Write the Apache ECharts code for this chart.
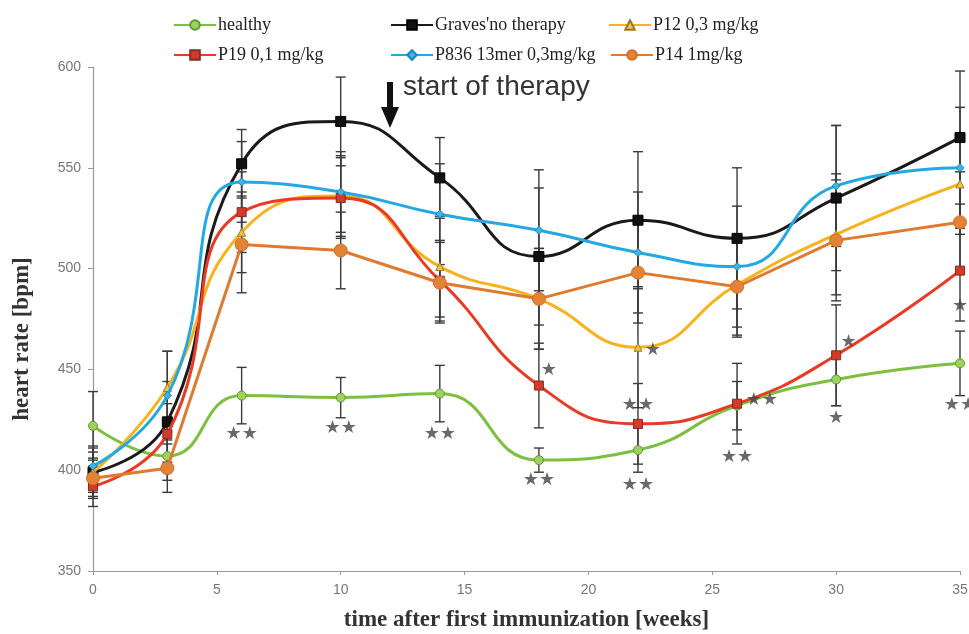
<!DOCTYPE html>
<html><head><meta charset="utf-8">
<script src="https://cdn.jsdelivr.net/npm/echarts@6/dist/echarts.min.js"></script>
<style>html,body{margin:0;padding:0;background:#fff}#c{width:969px;height:634px}</style>
</head><body><div id="c"></div>
<script>
const weeks = [0, 3, 6, 10, 14, 18, 22, 26, 30, 35];
const seriesNames = ["healthy", "Graves'no therapy", "P12 0,3 mg/kg", "P19 0,1 mg/kg", "P836 13mer 0,3mg/kg", "P14 1mg/kg"];
const healthy = [422, 407, 437, 436, 438, 405, 410, 432, 445, 453];
const graves  = [399, 424, 552, 573, 545, 506, 524, 515, 535, 565];
const p12     = [399, 441, 518, 536, 501, 485, 461, 492, 517, 542];
const p19     = [392, 418, 528, 535, 494, 442, 423, 433, 457, 499];
const p836    = [402, 437, 543, 538, 527, 519, 508, 501, 541, 550];
const p14     = [396, 401, 512, 509, 493, 485, 498, 491, 514, 523];
const errHealthy = [17, 12, 14, 10, 14, 6, 11, 12, 13, 16];
const errGraves  = [12, 20, 17, 22, 20, 34, 34, 35, 36, 33];
const errP12     = [10, 18, 20, 20, 25, 25, 30, 25, 30, 25];
const errP19     = [10, 15, 20, 20, 20, 21, 20, 20, 25, 25];
const errP836    = [10, 22, 20, 20, 25, 30, 30, 30, 30, 30];
const errP14     = [10, 12, 24, 19, 20, 25, 25, 25, 30, 25];
const yTicks = [350, 400, 450, 500, 550, 600];
const xTicks = [0, 5, 10, 15, 20, 25, 30, 35];
const annoX = [6, 10, 14, 18, 18.4, 22, 22, 22.6, 26, 27, 30, 30.5, 35, 35];
const annoY = [418, 421, 418, 395, 449.5, 432, 392.5, 459.5, 406.5, 434.5, 425.5, 463.5, 481.5, 432];
const annoText = ["★★", "★★", "★★", "★★", "★", "★★", "★★", "★", "★★", "★★", "★", "★", "★", "★★"];

const values = [healthy, graves, p12, p19, p836, p14];
const errs = [errHealthy, errGraves, errP12, errP19, errP836, errP14];
const colors = ['#7dbf3f', '#1a1a1a', '#f7b21c', '#ea3a26', '#23a9e1', '#e07a2e'];
const fills  = ['#9ed064', '#111111', '#f0c24a', '#d23a2a', '#3cb6e8', '#e38335'];
const borders= ['#5e9a2c', '#000000', '#9a7a2a', '#8a2a20', '#1c86b5', '#d0702a'];
const symbols = ['circle', 'rect', 'triangle', 'rect', 'diamond', 'circle'];
const sizes = [9, 10, 8, 9, 8, 13];
const smooths = [0.5, 0.5, 0.5, 0.5, 0.5, false];

const chart = echarts.init(document.getElementById('c'), null, {renderer: 'canvas'});

const series = [];
values.forEach((vals, si) => {
  series.push({
    type: 'custom',
    name: 'err' + si,
    z: 1,
    silent: true,
    data: weeks.map((w, i) => [w, vals[i] - errs[si][i], vals[i] + errs[si][i]]),
    renderItem: function (params, api) {
      const x = api.value(0);
      const lo = api.coord([x, api.value(1)]);
      const hi = api.coord([x, api.value(2)]);
      const cw = 5;
      const st = {stroke: '#3a3a3a', lineWidth: 1.4};
      return {type: 'group', children: [
        {type: 'line', shape: {x1: lo[0], y1: lo[1], x2: hi[0], y2: hi[1]}, style: st},
        {type: 'line', shape: {x1: lo[0]-cw, y1: lo[1], x2: lo[0]+cw, y2: lo[1]}, style: st},
        {type: 'line', shape: {x1: hi[0]-cw, y1: hi[1], x2: hi[0]+cw, y2: hi[1]}, style: st}
      ]};
    }
  });
});
values.forEach((vals, si) => {
  series.push({
    type: 'line',
    name: seriesNames[si],
    z: 3 + si,
    data: weeks.map((w, i) => [w, vals[i]]),
    smooth: smooths[si],
    symbol: symbols[si],
    symbolSize: sizes[si],
    showAllSymbol: true,
    lineStyle: {color: colors[si], width: 3},
    itemStyle: {color: fills[si], borderColor: borders[si], borderWidth: 1},
    emphasis: {disabled: true}
  });
});
series.push({
  type: 'scatter',
  name: 'stars',
  z: 10,
  symbolSize: 0,
  silent: true,
  data: annoX.map((x, i) => [x, annoY[i], annoText[i]]),
  label: {show: true, position: 'inside', formatter: p => p.value[2],
          fontSize: 18, color: '#444', fontFamily: 'DejaVu Sans'}
});

const legendPos = [
  {left: 168, top: 11}, {left: 385, top: 11}, {left: 603, top: 11},
  {left: 168, top: 41}, {left: 385, top: 41}, {left: 605, top: 41}
];
const legends = seriesNames.map((n, i) => ({
  data: [n], left: legendPos[i].left, top: legendPos[i].top,
  itemWidth: 42, itemHeight: 12, itemGap: 4,
  textStyle: {fontFamily: 'Liberation Serif', fontSize: 18, color: '#222', padding: [0,0,0,-3]},
  selectedMode: false
}));

chart.setOption({
  animation: false,
  backgroundColor: '#fff',
  legend: legends,
  grid: {left: 93, right: 9, top: 67, bottom: 63, outerBoundsMode: 'none', containLabel: false},
  xAxis: {
    type: 'value', min: 0, max: 35, interval: 5,
    name: 'time after first immunization [weeks]', nameLocation: 'middle', nameGap: 38,
    nameTextStyle: {fontFamily: 'Liberation Serif', fontWeight: 'bold', fontSize: 23, color: '#333'},
    axisLine: {lineStyle: {color: '#9a9a9a', width: 1.2}},
    axisTick: {show: true, length: 4, lineStyle: {color: '#9a9a9a'}},
    axisLabel: {fontFamily: 'Liberation Sans', fontSize: 14, color: '#777', margin: 12,
                formatter: v => xTicks.includes(v) ? String(v) : ''},
    splitLine: {show: false}
  },
  yAxis: {
    type: 'value', min: 350, max: 600, interval: 50,
    axisLine: {show: true, lineStyle: {color: '#9a9a9a', width: 1.2}},
    axisTick: {show: true, length: 5, lineStyle: {color: '#9a9a9a'}},
    axisLabel: {fontFamily: 'Liberation Sans', fontSize: 14, color: '#777', margin: 12,
                formatter: v => yTicks.includes(v) ? String(v) : ''},
    splitLine: {show: false}
  },
  graphic: [
    {type: 'text', z: 20, x: 22, y: 339, rotation: Math.PI / 2,
     style: {text: 'heart rate [bpm]', fontFamily: 'Liberation Serif', fontWeight: 'bold', fontSize: 23,
             fill: '#333', align: 'center', verticalAlign: 'middle'}},
    {type: 'polygon', z: 20, shape: {points: [[387, 82], [393, 82], [393, 107], [399, 107], [390, 128], [381, 107], [387, 107]]},
     style: {fill: '#111'}},
    {type: 'text', z: 20, left: 403, top: 73,
     style: {text: 'start of therapy', fontFamily: 'Liberation Sans', fontSize: 28, fill: '#333'}}
  ],
  series: series
});
</script></body></html>
